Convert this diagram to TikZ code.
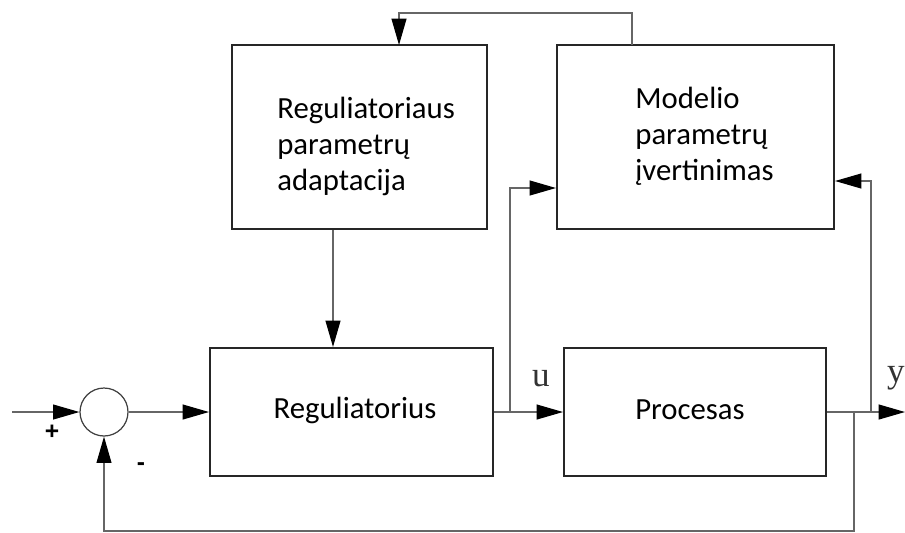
\documentclass[tikz,border=0pt]{standalone}
\usepackage{fontspec}
\setmainfont{Carlito}
\newfontfamily\signalfont{Liberation Serif}
\newfontfamily\markfont{Liberation Sans}
\usetikzlibrary{arrows.meta,positioning,calc}
\tikzset{block/.style={draw=black!85,line width=1.2pt,inner sep=0pt},
  blocktext/.style={align=left,inner sep=0pt,font=\fontsize{17.5}{20.5}\selectfont},
  sig/.style={draw=black!60,line width=0.7pt},
  arr/.style={sig,-{Triangle[length=15pt,width=8.5pt,color=black]}},
  sumnode/.style={circle,draw=black!75,line width=0.7pt,minimum size=0.96cm,inner sep=0pt},
  signame/.style={font=\signalfont\fontsize{20}{20}\selectfont,text=black!80,inner sep=0pt},
  signtext/.style={font=\markfont\bfseries\fontsize{14}{14}\selectfont}}

\begin{document}
\begin{tikzpicture}[x=0.02cm,y=-0.02cm]
                \useasboundingbox (0,0) rectangle (905,532);
                \node[block,minimum width=5.1cm,minimum height=3.68cm] (adapt) at (359.5,137) {};
                \node[block,minimum width=5.54cm,minimum height=3.68cm] (model) at (695.5,137) {};
                \node[block,minimum width=5.66cm,minimum height=2.56cm] (reg) at (351.5,412) {};
                \node[block,minimum width=5.24cm,minimum height=2.56cm] (proc) at (695,412) {};
                \node[sumnode] (sum) at (104,412) {};
                \node[blocktext,anchor=west] (adapttext) at (277,146) {Reguliatoriaus\\parametrų\\adaptacija};
                \node[blocktext,anchor=west] (modeltext) at (635,136) {Modelio\\parametrų\\įvertinimas};
                \node[blocktext] (regtext) at (355,410) {Reguliatorius};
                \node[blocktext] (proctext) at (690,410) {Procesas};
                \node[signame] (ulabel) at (541,379) {u};
                \node[signame] (ylabel) at (896,378) {y};
                \node[signtext] (plus) at (52,432) {+};
                \node[signtext] (minus) at (141,467) {-};
                \coordinate (in) at (12,412);
                \coordinate (out) at (905,412);
                \coordinate (ubranch) at (510,412);
                \coordinate (uturn) at (510,188);
                \coordinate (ybranch) at (871,412);
                \coordinate (yturn) at (871,181);
                \coordinate (fbranch) at (854,412);
                \coordinate (fbottom) at (854,531);
                \coordinate (mtop) at (632,45);
                \coordinate (mturn) at (632,13);
                \coordinate (aturn) at (399,13);
                \coordinate (atop) at (399,45);
                \draw[arr] (in) -- (sum.west);
                \draw[arr] (sum.east) -- (reg.west);
                \draw[arr] (reg.east) -- (proc.west);
                \draw[arr] (proc.east) -- (out);
                \draw[arr] (ubranch) -- (uturn) -- (uturn -| model.west);
                \draw[arr] (ybranch) -- (yturn) -- (yturn -| model.east);
                \draw[arr] (fbranch) -- (fbottom) -| (sum.south);
                \draw[arr] (mtop) -- (mturn) -- (aturn) -- (atop);
                \draw[arr] (adapt.south -| 333,0) -- (reg.north -| 333,0);
            \end{tikzpicture}
\end{document}
